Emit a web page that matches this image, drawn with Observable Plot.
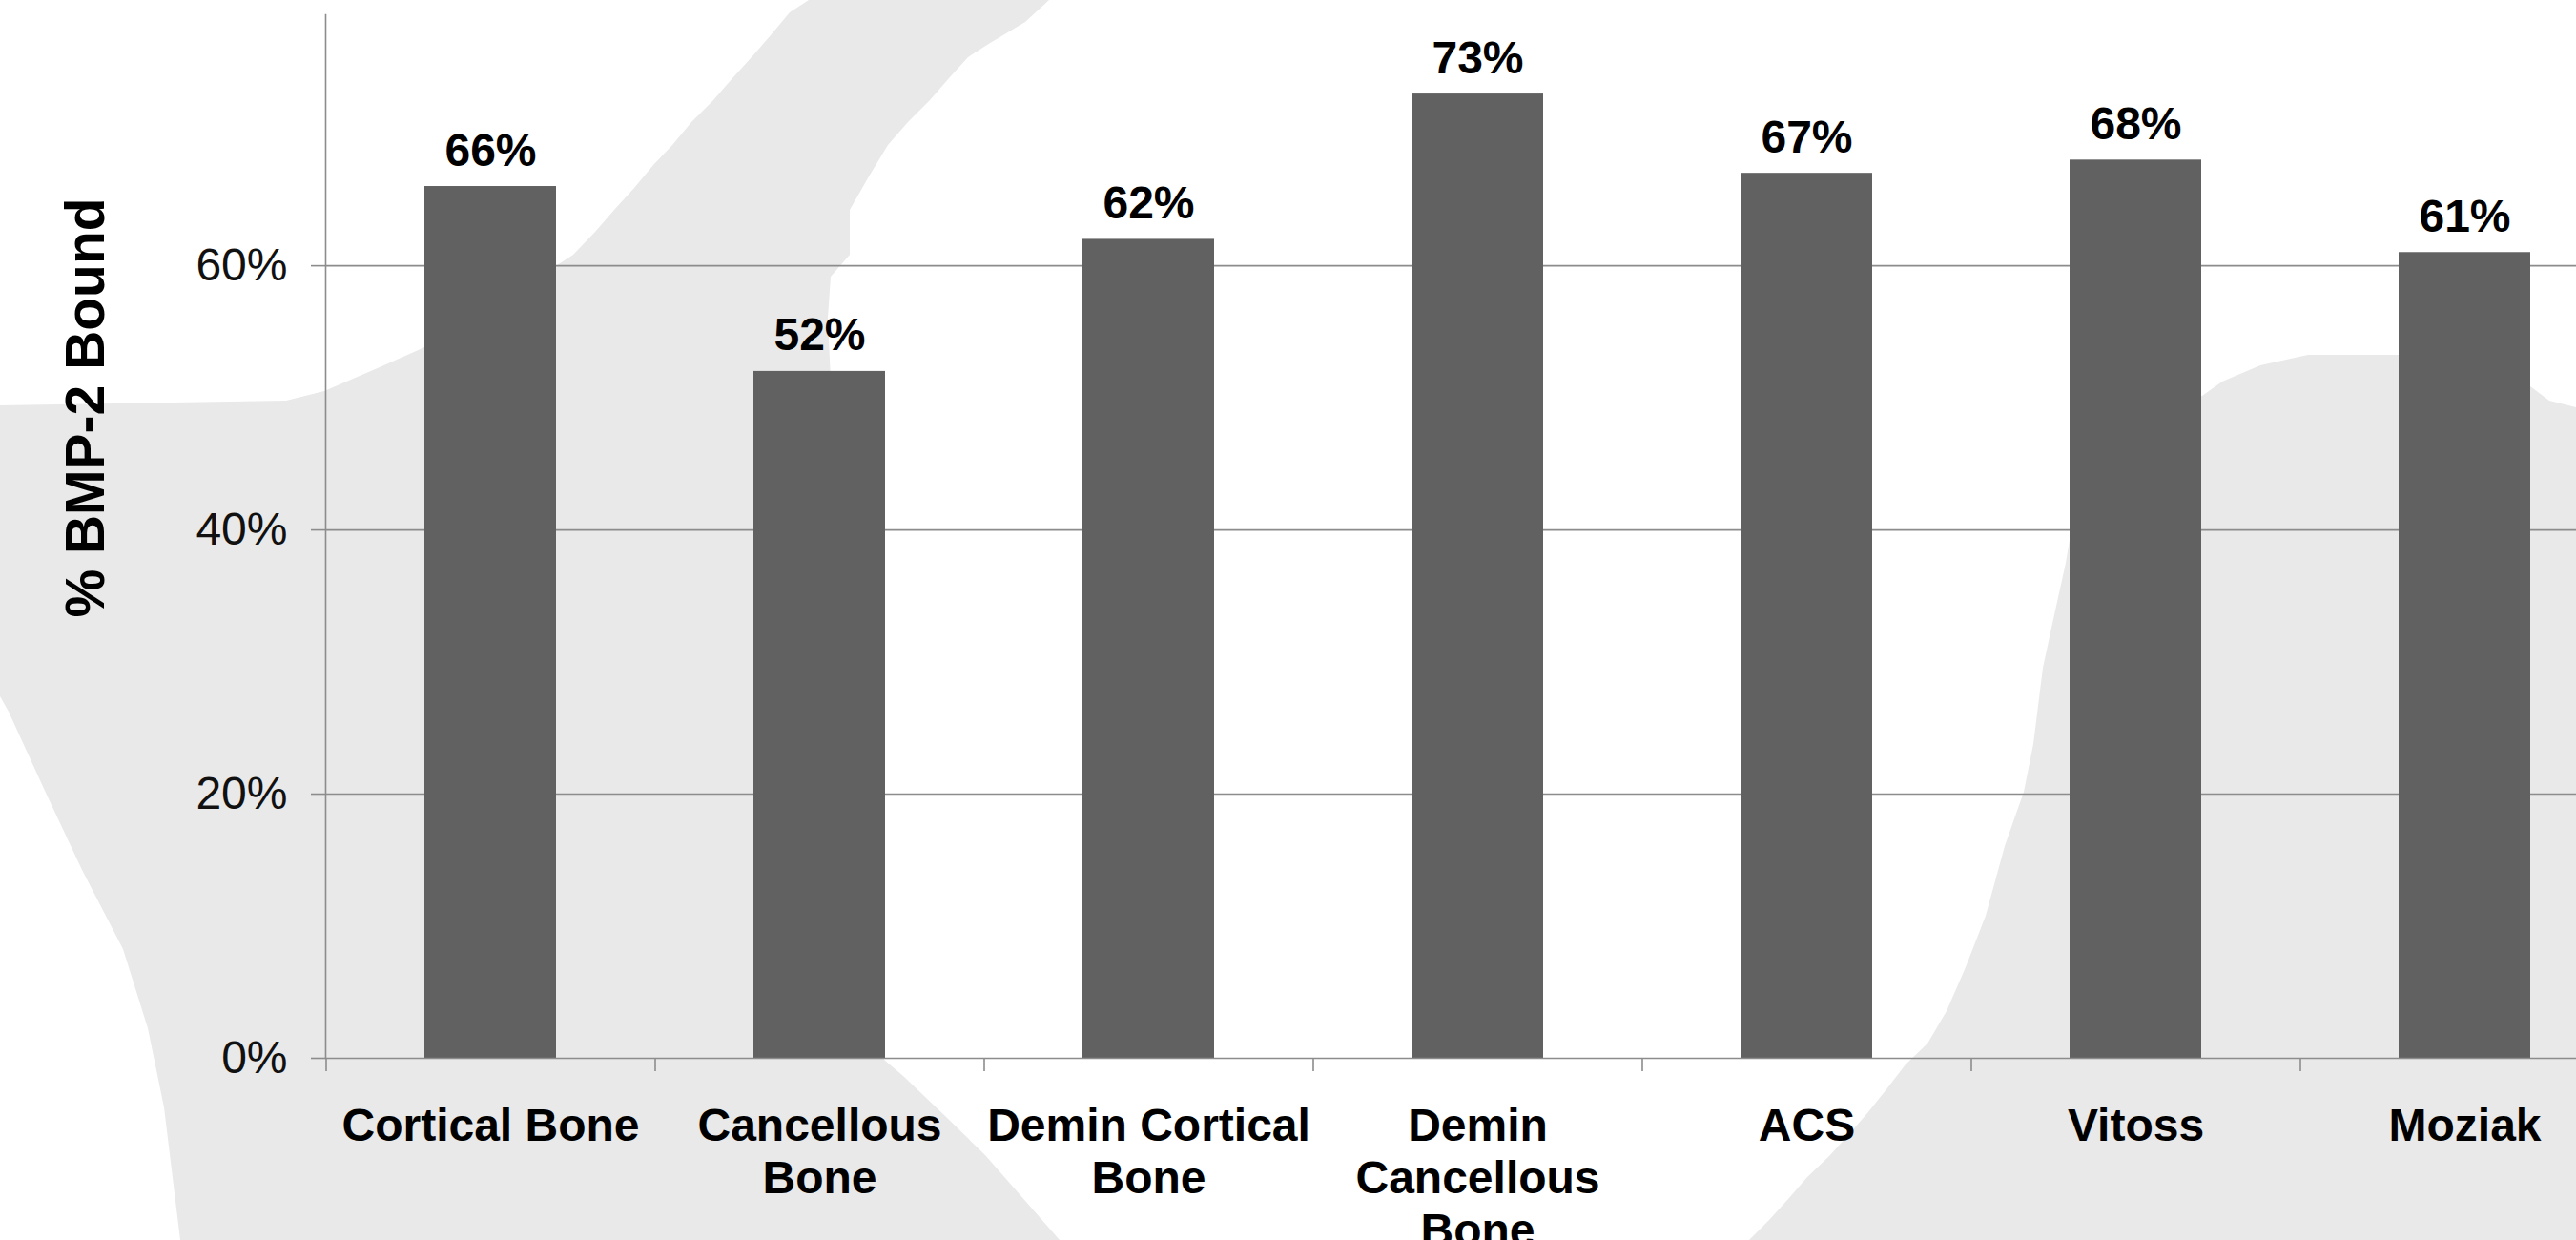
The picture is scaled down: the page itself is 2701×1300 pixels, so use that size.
<!DOCTYPE html>
<html>
<head>
<meta charset="utf-8">
<script src="https://cdn.jsdelivr.net/npm/d3@7"></script>
<script src="https://cdn.jsdelivr.net/npm/@observablehq/plot@0.6"></script>
<style>
  html, body { margin: 0; padding: 0; width: 2701px; height: 1300px; overflow: hidden; background: #ffffff; }
  #stage { position: relative; width: 2701px; height: 1300px; }
  #backdrop, #chart { position: absolute; left: 0; top: 0; }
</style>
</head>
<body>
<div id="stage">
  <!-- slide backdrop: soft grey swooshes behind the chart -->
  <svg id="backdrop" width="2701" height="1300" viewBox="0 0 2701 1300">
    <g fill="#e9e9e9">
      <path d="M0,425 L300,420 L340,410 L398,385 L443,365 L581,280 L601,267 L624,243 L644,220 L665,197 L685,173 L705,152 L725,128 L748,105 L768,82 L788,60 L808,37 L828,13 L848,0 L1100,0 L1075,23 L1055,35 L1035,47 L1015,60 L995,82 L975,105 L952,128 L931,152 L911,185 L891,220 L891,267 L871,290 L868,333 L880,600 L927,1111 L947,1128 L990,1169 L1033,1211 L1076,1260 L1111,1300 L189,1300 L172,1161 L155,1078 L129,995 L86,912 L47,829 L9,746 L0,730 Z"/>
      <path d="M2171,560 L2200,430 L2309,415 L2330,400 L2370,383 L2420,372 L2515,372 L2600,395 L2653,405 L2673,420 L2701,427 L2701,1300 L1834,1300 L1855,1279 L1875,1257 L1895,1234 L1918,1212 L1938,1190 L1958,1167 L1978,1142 L1998,1116 L2021,1094 L2041,1060 L2061,1014 L2082,960 L2102,887 L2122,830 L2132,780 L2142,700 L2155,640 L2166,590 Z"/>
    </g>
  </svg>
  <div id="chart"></div>
</div>
<script>
// Share of BMP-2 bound by each graft material
const categories = ["Cortical Bone", "Cancellous Bone", "Demin Cortical Bone", "Demin Cancellous Bone", "ACS", "Vitoss", "Moziak"];
const categoryLabels = ["Cortical Bone", "Cancellous\nBone", "Demin Cortical\nBone", "Demin\nCancellous\nBone", "ACS", "Vitoss", "Moziak"];
const boundShare = [0.66, 0.52, 0.62, 0.73, 0.67, 0.68, 0.61];
const yTickValues = [0, 0.2, 0.4, 0.6];
const yAxisTitle = "% BMP-2 Bound";

const data = categories.map((c, i) => ({category: c, value: boundShare[i]}));
const labelOf = new Map(categories.map((c, i) => [c, categoryLabels[i]]));

// layout
const W = 2701, H = 1300;
const mLeft = 341, mTop = 15, mBottom = 191;
const xEnd = 2756;                      // the category axis runs on past the page edge
const step = (xEnd - mLeft) / categories.length;
const axisGrey = "#8c8c8c";
const fontSize = 48;
const pct = d3.format(".0%");

const chart = Plot.plot({
  width: W,
  height: H,
  marginLeft: mLeft,
  marginRight: 0,
  marginTop: mTop,
  marginBottom: mBottom,
  style: {background: "transparent", fontFamily: "'Liberation Sans', Arial, sans-serif", color: "#000", overflow: "hidden"},
  x: {domain: categories, range: [mLeft, xEnd], paddingInner: 0.6, paddingOuter: 0.3},
  y: {domain: [0, 0.79]},
  marks: [
    Plot.ruleY(yTickValues.slice(1), {stroke: axisGrey, strokeWidth: 1.6}),
    Plot.barY(data, {x: "category", y: "value", fill: "#616161"}),
    Plot.ruleY([0], {stroke: axisGrey, strokeWidth: 1.6}),
    Plot.frame({anchor: "left", stroke: axisGrey, strokeWidth: 1.6}),
    Plot.axisY({ticks: yTickValues, tickFormat: pct, tickSize: 15, tickPadding: 25, stroke: axisGrey, strokeWidth: 1.6, fontSize, fill: "#111", label: null}),
    // tick marks between categories
    Plot.axisX({tickSize: 14, tickFormat: () => "", dx: -step / 2, stroke: axisGrey, strokeWidth: 1.6, label: null}),
    // category names
    Plot.axisX({tickSize: 0, tickPadding: 47, tickFormat: c => labelOf.get(c), fontSize, fontWeight: "bold", lineHeight: 1.15, fill: "#000", label: null}),
    Plot.text(data, {x: "category", y: "value", text: d => pct(d.value), dy: -22, lineAnchor: "bottom", fontSize, fontWeight: "bold", fill: "#000"}),
    Plot.text([yAxisTitle], {frameAnchor: "left", textAnchor: "middle", rotate: -90, dx: 90 - mLeft, dy: 427 - (mTop + (H - mBottom)) / 2, fontSize: 57, fontWeight: "bold", fill: "#000"})
  ]
});

document.getElementById("chart").appendChild(chart);
</script>
</body>
</html>
